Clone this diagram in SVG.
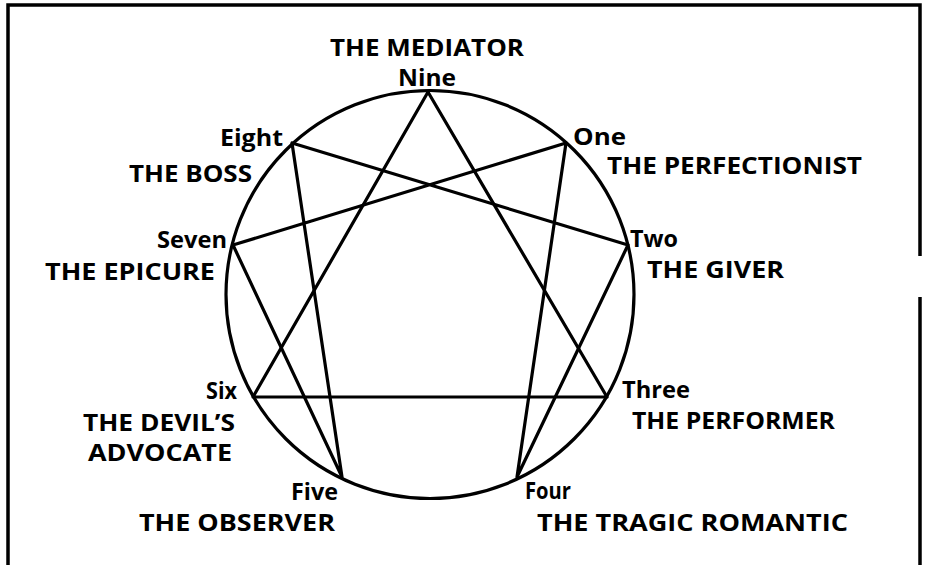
<svg xmlns="http://www.w3.org/2000/svg" width="930" height="565" viewBox="0 0 930 565">
<style>
.lbl{font-family:"Open Sans","Liberation Sans",sans-serif;font-weight:700;font-size:23px;fill:#000}
.ln{stroke:#000;stroke-width:3.2;fill:none;stroke-linecap:round;stroke-linejoin:round}
.frame{stroke:#000;stroke-width:3.5;fill:none}
</style>
<rect width="930" height="565" fill="#fff"/>
<g id="frame">
<path class="frame" d="M8,565 V5 H920 V256"/>
<path class="frame" d="M920,297 V565"/>
</g>
<g id="circle"><circle class="ln" cx="430" cy="294.5" r="204"/></g>
<g id="connectors">
<path class="ln" d="M428,92 L607,397 L253,397 Z"/>
<path class="ln" d="M566,143 L517,477 L628,245 L292,143 L342,477 L233,245 Z"/>
</g>
<g id="nine"><text class="lbl" x="330" y="56" textLength="194" lengthAdjust="spacingAndGlyphs">THE MEDIATOR</text><text class="lbl" x="398" y="86" textLength="58" lengthAdjust="spacingAndGlyphs">Nine</text></g>
<g id="eight"><text class="lbl" x="220" y="146" textLength="63" lengthAdjust="spacingAndGlyphs">Eight</text><text class="lbl" x="129" y="182" textLength="123" lengthAdjust="spacingAndGlyphs">THE BOSS</text></g>
<g id="one"><text class="lbl" x="573" y="145" textLength="53" lengthAdjust="spacingAndGlyphs">One</text><text class="lbl" x="607" y="174" textLength="255" lengthAdjust="spacingAndGlyphs">THE PERFECTIONIST</text></g>
<g id="seven"><text class="lbl" x="157" y="248" textLength="70" lengthAdjust="spacingAndGlyphs">Seven</text><text class="lbl" x="45" y="280" textLength="170" lengthAdjust="spacingAndGlyphs">THE EPICURE</text></g>
<g id="two"><text class="lbl" x="630" y="247" textLength="48" lengthAdjust="spacingAndGlyphs">Two</text><text class="lbl" x="647" y="278" textLength="137" lengthAdjust="spacingAndGlyphs">THE GIVER</text></g>
<g id="six"><text class="lbl" x="206" y="399" textLength="31" lengthAdjust="spacingAndGlyphs">Six</text><text class="lbl" x="83" y="431" textLength="152" lengthAdjust="spacingAndGlyphs">THE DEVIL’S</text><text class="lbl" x="88" y="461" textLength="144" lengthAdjust="spacingAndGlyphs">ADVOCATE</text></g>
<g id="three"><text class="lbl" x="622" y="398" textLength="68" lengthAdjust="spacingAndGlyphs">Three</text><text class="lbl" x="632" y="429" textLength="203" lengthAdjust="spacingAndGlyphs">THE PERFORMER</text></g>
<g id="five"><text class="lbl" x="291" y="500" textLength="47" lengthAdjust="spacingAndGlyphs">Five</text><text class="lbl" x="139" y="531" textLength="196" lengthAdjust="spacingAndGlyphs">THE OBSERVER</text></g>
<g id="four"><text class="lbl" x="525" y="499" textLength="46" lengthAdjust="spacingAndGlyphs">Four</text><text class="lbl" x="537" y="531" textLength="311" lengthAdjust="spacingAndGlyphs">THE TRAGIC ROMANTIC</text></g>
</svg>
